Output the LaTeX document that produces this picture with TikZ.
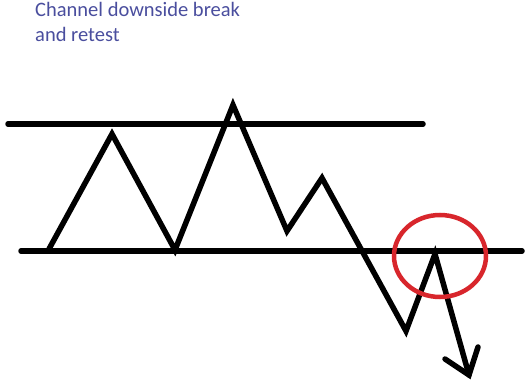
\documentclass[tikz,border=0pt]{standalone}
\usepackage{fontspec}
\usetikzlibrary{shapes.geometric}
\setmainfont{Carlito}
\definecolor{txtblue}{HTML}{4A4E9E}
\definecolor{circred}{HTML}{D8262C}
\begin{document}
\begin{tikzpicture}[x=1pt,y=-1pt,
  blk/.style={line width=5.5pt,line cap=round,line join=miter,black},
  ring/.style={line width=4.5pt,circred},
  lbl/.style={text=txtblue,font=\fontsize{20.5}{25}\selectfont,align=left,anchor=north west,inner sep=0pt}]
\useasboundingbox (0,0) rectangle (528,382);
\fill[white] (0,0) rectangle (528,382);
\node[lbl] (title) at (35,2) {Channel downside break\\and retest};
% channel lines
\coordinate (tl) at (8,124); \coordinate (tr) at (423,124);
\coordinate (bl) at (21,251); \coordinate (br) at (522,251);
\draw[blk] (tl) -- (tr);
\draw[blk] (bl) -- (br);
% price path
\coordinate (p0) at (49,249);
\coordinate (p1) at (112,134);
\coordinate (p2) at (175,250);
\coordinate (p3) at (233,105);
\coordinate (p4) at (287,231);
\coordinate (p5) at (322,178);
\coordinate (p6) at (406,331);
\coordinate (p7) at (435,254);
\coordinate (p8) at (469,375);
\draw[blk,line join=miter] (p0) -- (p1) -- (p2) -- (p3) -- (p4) -- (p5) -- (p6) -- (p7) -- (p8);
% arrow head
\coordinate (a1) at (445,359);
\coordinate (a2) at (478,347);
\draw[blk,line join=miter] (a1) -- (p8) -- (a2);
% retest circle
\node[ring,draw,ellipse,minimum width=92pt,minimum height=82pt,inner sep=0pt] (circ) at (440,256) {};
\end{tikzpicture}
\end{document}
